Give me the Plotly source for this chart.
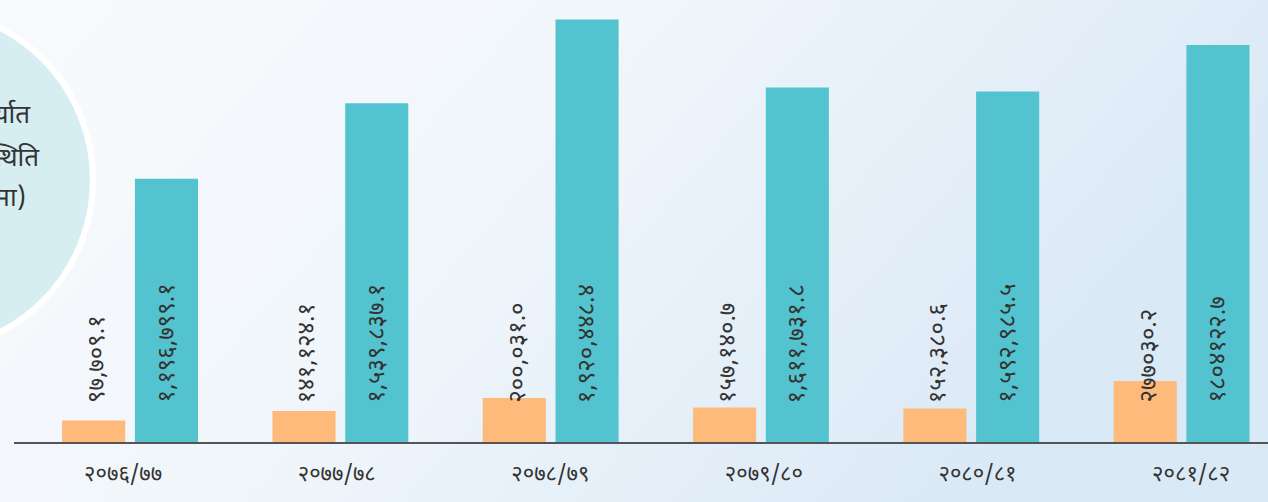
import base64
import plotly.graph_objects as go

# ---- data ----
years = ["२०७६/७७", "२०७७/७८", "२०७८/७९", "२०७९/८०", "२०८०/८१", "२०८१/८२"]
exports = [97709.1, 141124.1, 200031.0, 157140.7, 152380.6, 277030.2]
imports = [1196799.1, 1539837.1, 1920448.4, 1611731.8, 1592985.5, 1804122.7]
export_labels = ["९७,७०९.१", "१४१,१२४.१", "२००,०३१.०", "१५७,१४०.७", "१५२,३८०.६", "२७७०३०.२"]
import_labels = ["१,१९६,७९९.१", "१,५३९,८३७.१", "१,९२०,४४८.४", "१,६११,७३१.८", "१,५९२,९८५.५", "१८०४१२२.७"]
title_lines = ["आयात/निर्यात", "व्यापार स्थिति", "(रु. दश लाखमा)"]

ORANGE = "#FDBA7B"
TEAL = "#53C4CF"
TXT = "#333333"
FONT = "Noto Sans Devanagari, Noto Sans, Lato, sans-serif"

W, H = 1268, 502
L, B = 14, 60
PW, PH = W - L, H - B

fig = go.Figure()
fig.add_trace(go.Bar(x=years, y=exports, marker=dict(color=ORANGE, line=dict(width=0)),
                     width=0.3, offset=-0.318, hoverinfo="skip", showlegend=False))
fig.add_trace(go.Bar(x=years, y=imports, marker=dict(color=TEAL, line=dict(width=0)),
                     width=0.3, offset=0.028, hoverinfo="skip", showlegend=False))
# invisible trace carrying the tick-label axis
fig.add_trace(go.Scatter(x=years, y=[0] * len(years), xaxis="x2", mode="markers",
                         marker=dict(opacity=0), hoverinfo="skip", showlegend=False))

# value labels
for i, yr in enumerate(years):
    fig.add_annotation(x=yr, y=0, xref="x", yref="y", text=export_labels[i], showarrow=False,
                       textangle=-90, yanchor="bottom", xanchor="center", yshift=37, xshift=-31,
                       font=dict(family=FONT, size=24, color=TXT))
    fig.add_annotation(x=yr, y=0, xref="x", yref="y", text=import_labels[i], showarrow=False,
                       textangle=-90, yanchor="bottom", xanchor="center", yshift=37, xshift=38,
                       font=dict(family=FONT, size=24, color=TXT))

def px_x(p):
    return (p - L) / PW

def px_y(p):
    return (PH - p) / PH

# background gradient
svg = f'''<svg xmlns="http://www.w3.org/2000/svg" width="{W}" height="{H}" viewBox="0 0 {W} {H}" preserveAspectRatio="none">
<defs><linearGradient id="g" x1="0" y1="0" x2="1" y2="0.35">
<stop offset="0" stop-color="#F8FBFD"/><stop offset="0.45" stop-color="#F1F6FB"/>
<stop offset="1" stop-color="#DAE9F6"/></linearGradient></defs>
<rect width="{W}" height="{H}" fill="url(#g)"/></svg>'''
src = "data:image/svg+xml;base64," + base64.b64encode(svg.encode()).decode()
fig.add_layout_image(source=src, xref="paper", yref="paper", x=px_x(0), y=px_y(0),
                     sizex=W / PW, sizey=H / PH, xanchor="left", yanchor="top",
                     sizing="stretch", layer="below")

# circle badge
cx, cy, r = -78, 180, 171
fig.add_shape(type="circle", xref="paper", yref="paper",
              x0=px_x(cx - r), x1=px_x(cx + r), y0=px_y(cy + r), y1=px_y(cy - r),
              fillcolor="#D6EEF2", line=dict(color="#FFFFFF", width=6), layer="below")
for txt, rx, ry in zip(title_lines, [33, 42, 28], [117, 160, 200]):
    fig.add_annotation(x=px_x(rx), y=px_y(ry), xref="paper", yref="paper", text=txt,
                       showarrow=False, xanchor="right", yanchor="middle",
                       font=dict(family=FONT, size=26, color=TXT))

fig.update_layout(
    width=W, height=H,
    margin=dict(l=L, r=0, t=0, b=B, pad=0),
    paper_bgcolor="#F4F8FC", plot_bgcolor="rgba(0,0,0,0)",
    barmode="overlay",
    xaxis=dict(type="category", range=[-0.547, 5.416], showline=True, linecolor="#555555",
               linewidth=1.5, showticklabels=False, ticks="", showgrid=False, zeroline=False,
               fixedrange=True),
    xaxis2=dict(type="category", overlaying="x", anchor="y", side="bottom",
                range=[-0.511, 5.36], showline=False, ticks="", showgrid=False,
                zeroline=False, ticklabelstandoff=16,
                tickfont=dict(family=FONT, size=22, color=TXT)),
    yaxis=dict(range=[0, 2009000], visible=False, showgrid=False, zeroline=False),
    font=dict(family=FONT),
)

fig.write_html("out.html", config={"displayModeBar": False, "staticPlot": True},
               post_script="document.body.style.margin='0';document.body.style.overflow='hidden';")
